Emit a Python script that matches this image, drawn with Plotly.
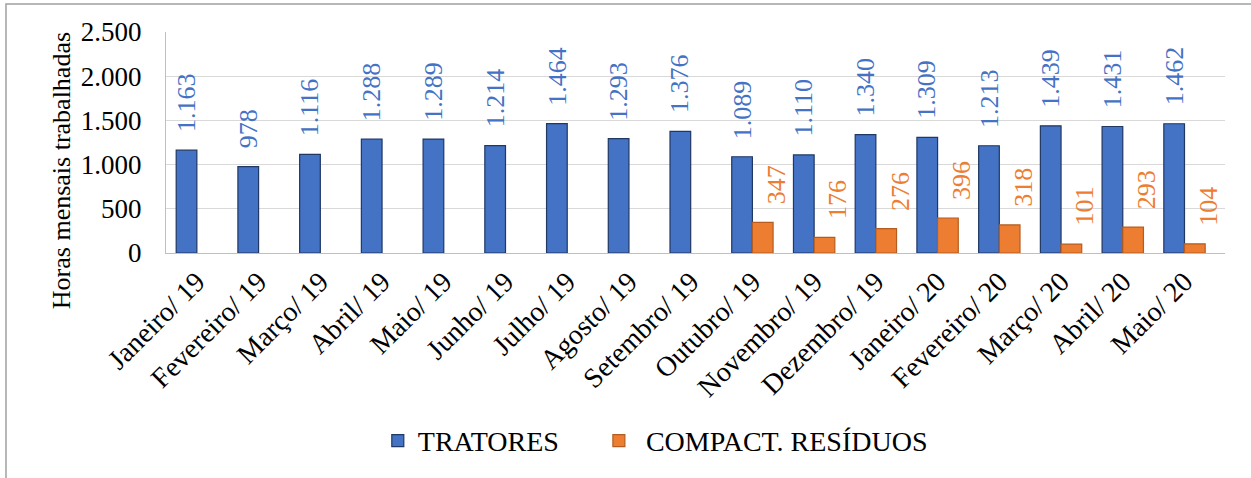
import plotly.graph_objects as go

meses = ["Janeiro/ 19", "Fevereiro/ 19", "Março/ 19", "Abril/ 19", "Maio/ 19",
         "Junho/ 19", "Julho/ 19", "Agosto/ 19", "Setembro/ 19", "Outubro/ 19",
         "Novembro/ 19", "Dezembro/ 19", "Janeiro/ 20", "Fevereiro/ 20",
         "Março/ 20", "Abril/ 20", "Maio/ 20"]
tratores = [1163, 978, 1116, 1288, 1289, 1214, 1464, 1293, 1376, 1089,
            1110, 1340, 1309, 1213, 1439, 1431, 1462]
compactadores = [None, None, None, None, None, None, None, None, None, 347,
                 176, 276, 396, 318, 101, 293, 104]
y_ticks = [0, 500, 1000, 1500, 2000, 2500]

FONT = "Liberation Serif, Times New Roman, serif"
AZUL = "#4472C4"
LARANJA = "#ED7D31"


def fmt(v):
    return f"{v:,}".replace(",", ".")


fig = go.Figure()
fig.add_trace(go.Bar(x=meses, y=tratores, name="TRATORES\u00a0\u00a0\u00a0\u00a0\u00a0",
                     marker=dict(color=AZUL, line=dict(color="#1F3864", width=1.2))))
fig.add_trace(go.Bar(x=meses, y=compactadores, name="\u00a0COMPACT. RESÍDUOS",
                     marker=dict(color=LARANJA, line=dict(color="#B55D20", width=1.2))))

# rotated value labels above each bar
anns = []
for m, v in zip(meses, tratores):
    anns.append(dict(x=m, y=v, xref="x", yref="y", text=fmt(v), textangle=-90,
                     showarrow=False, xanchor="center", yanchor="bottom",
                     xshift=-10.5, yshift=16,
                     font=dict(family=FONT, size=26, color=AZUL)))
for m, v in zip(meses, compactadores):
    if v is None:
        continue
    anns.append(dict(x=m, y=v, xref="x", yref="y", text=fmt(v), textangle=-90,
                     showarrow=False, xanchor="center", yanchor="bottom",
                     xshift=24, yshift=16,
                     font=dict(family=FONT, size=26, color=LARANJA)))

# y axis title
anns.append(dict(x=-0.099, y=0.371, xref="paper", yref="paper",
                 text="Horas mensais trabalhadas", textangle=-90, showarrow=False,
                 xanchor="center", yanchor="middle",
                 font=dict(family=FONT, size=26, color="black")))

fig.update_layout(
    width=1251, height=478,
    margin=dict(l=166, r=26, t=32, b=225),
    paper_bgcolor="white", plot_bgcolor="white",
    barmode="group", bargap=0.33, bargroupgap=0,
    separators=",.",
    font=dict(family=FONT, size=26, color="black"),
    annotations=anns,
    showlegend=True,
    legend=dict(orientation="h", x=0.2, xanchor="left", y=-0.85, yanchor="middle",
                font=dict(family=FONT, size=28, color="black"),
                traceorder="normal", bgcolor="rgba(0,0,0,0)"),
    shapes=[dict(type="rect", xref="paper", yref="paper",
                 x0=-0.1511, x1=1.2, y0=-1.5, y1=1.1267,
                 line=dict(color="#A0A0A0", width=1.5), fillcolor="rgba(0,0,0,0)",
                 layer="below")],
)
fig.update_yaxes(range=[0, 2500], tickvals=y_ticks, tickformat=",d",
                 showgrid=True, gridcolor="#D9D9D9", gridwidth=1,
                 showline=True, linecolor="#BFBFBF", linewidth=1,
                 zeroline=False, ticks="", ticklabelstandoff=18,
                 tickfont=dict(family=FONT, size=27, color="black"))
fig.update_xaxes(tickangle=-45, showline=True, linecolor="#BFBFBF", linewidth=1,
                 ticks="", showgrid=False,
                 tickfont=dict(family=FONT, size=28, color="black"))

fig.write_html("out.html")
